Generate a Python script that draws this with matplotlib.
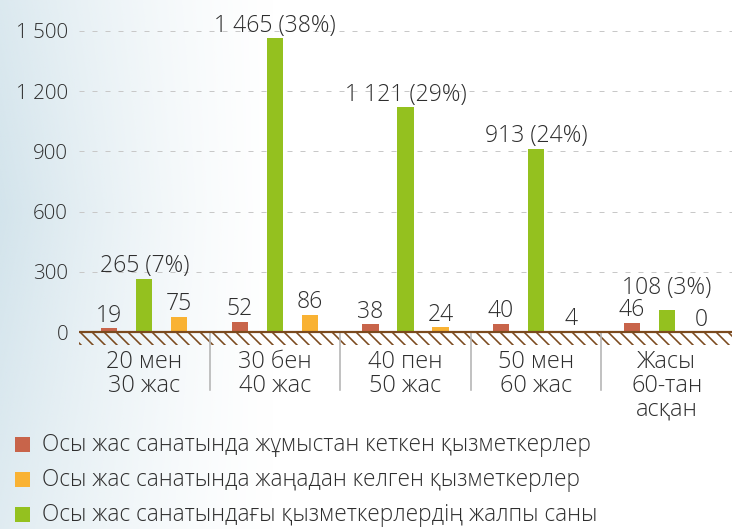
import numpy as np
import matplotlib
matplotlib.use("Agg")
import matplotlib.pyplot as plt
from matplotlib.patches import Rectangle

categories = ["20 мен\n30 жас", "30 бен\n40 жас", "40 пен\n50 жас", "50 мен\n60 жас", "Жасы\n60-тан\nасқан"]
left_vals = [19, 52, 38, 40, 46]
total_vals = [265, 1465, 1121, 913, 108]
total_pct = [7, 38, 29, 24, 3]
new_vals = [75, 86, 24, 4, 0]
yticks = [0, 300, 600, 900, 1200, 1500]
legend_labels = [
    "Осы жас санатында жұмыстан кеткен қызметкерлер",
    "Осы жас санатында жаңадан келген қызметкерлер",
    "Осы жас санатындағы қызметкерлердің жалпы саны",
]

C_RED = "#C8644A"
C_GREEN = "#94C11F"
C_ORANGE = "#F9B233"
C_BROWN = "#7B4A1E"
C_TEXT = "#2e2e2e"
FW = 'light'

plt.rcParams['font.family'] = ['Open Sans', 'DejaVu Sans']
plt.rcParams['hatch.color'] = C_BROWN
plt.rcParams['hatch.linewidth'] = 1.6

W, H, DPI = 734, 529, 72
fig = plt.figure(figsize=(W / DPI, H / DPI), dpi=DPI)
fig.patch.set_facecolor("white")

# soft bluish background on the left
bg = fig.add_axes([0, 0, 1, 1], zorder=-10)
xs = np.linspace(0, 1, 400)
ys = np.linspace(0, 1, 300)
X, Y = np.meshgrid(xs, ys)
alpha = np.clip(1 - X * W / 280.0, 0, 1) ** 1.4 * (0.6 + 0.4 * (1 - np.abs(Y - 0.6) * 1.2))
alpha = np.clip(alpha, 0, 1)
img = np.ones((300, 400, 4))
img[..., 0] = 200 / 255
img[..., 1] = 221 / 255
img[..., 2] = 231 / 255
img[..., 3] = alpha * 0.8
bg.imshow(img, extent=[0, 1, 0, 1], aspect='auto', origin='lower')
bg.set_xlim(0, 1); bg.set_ylim(0, 1)
bg.axis('off')

# axes geometry in pixels
ax_l, ax_r = 79, 732
ax_top, ax_bot = 0, 410
zero_px, px1500 = 332, 31
upp = 1500.0 / (zero_px - px1500)
ymax = 1500 + px1500 * upp
ymin = -(ax_bot - zero_px) * upp

ax = fig.add_axes([ax_l / W, 1 - ax_bot / H, (ax_r - ax_l) / W, (ax_bot - ax_top) / H])
ax.set_facecolor("none")
ax.set_xlim(-0.5, 4.5)
ax.set_ylim(ymin, ymax)
for s in ax.spines.values():
    s.set_visible(False)

x = np.arange(len(categories))
off, bw = 0.268, 0.123
ax.bar(x - off, left_vals, bw, color=C_RED, zorder=3)
ax.bar(x, total_vals, bw, color=C_GREEN, zorder=3)
ax.bar(x + off, new_vals, bw, color=C_ORANGE, zorder=3)

def fmt(v):
    return f"{v:,}".replace(",", " ")

lbl_pad = 0.5 * upp
VS = 23
for i in range(len(categories)):
    # lift the total label a little when it would collide with the neighbouring label
    lift = 10 * upp if abs(total_vals[i] - max(left_vals[i], new_vals[i])) < 100 else 0
    ax.text(x[i] - off, left_vals[i] + lbl_pad, fmt(left_vals[i]), ha='center', va='bottom',
            fontsize=VS, color=C_TEXT, zorder=5, fontweight=FW)
    ax.text(x[i], total_vals[i] + lbl_pad + lift, f"{fmt(total_vals[i])} ({total_pct[i]}%)",
            ha='center', va='bottom', fontsize=VS, color=C_TEXT, zorder=5, fontweight=FW)
    ax.text(x[i] + off, new_vals[i] + lbl_pad, fmt(new_vals[i]), ha='center', va='bottom',
            fontsize=VS, color=C_TEXT, zorder=5, fontweight=FW)

# grid
ax.set_yticks(yticks)
ax.set_yticklabels([fmt(v) for v in yticks], fontsize=20.5, color=C_TEXT, fontweight=FW)
ax.tick_params(axis='y', length=0, pad=11)
ax.set_xticks([])
for v in yticks[1:]:
    ax.axhline(v, color="#c8c8c8", lw=1, ls=(0, (5, 8)), zorder=1)

# ground
ax.add_patch(Rectangle((-0.5, -13 * upp), 5, 13 * upp, facecolor='none', edgecolor=C_BROWN,
                       lw=0, hatch='\\\\', zorder=2))
ax.axhline(0, color=C_BROWN, lw=2.2, zorder=4)

# separators
for b in x[:-1] + 0.5:
    ax.plot([b, b], [0, -(390 - zero_px) * upp], color="#b4b4b4", lw=1.6, zorder=2)

# category labels
for i, c in enumerate(categories):
    ax.text(x[i], -(350 - zero_px) * upp, c, ha='center', va='top', fontsize=23.5,
            color=C_TEXT, linespacing=1.0, fontweight=FW)

# legend
leg_colors = [C_RED, C_ORANGE, C_GREEN]
rows = [444, 479, 514]
for col, lab, yc in zip(leg_colors, legend_labels, rows):
    fig.patches.append(Rectangle((15 / W, 1 - (yc + 7.5) / H), 15 / W, 15 / H,
                                 transform=fig.transFigure, facecolor=col, edgecolor='none'))
    fig.text(42 / W, 1 - (yc + 1) / H, lab, ha='left', va='center', fontsize=22.6, color=C_TEXT,
             fontweight=FW)

fig.savefig("out.png", dpi=DPI)
